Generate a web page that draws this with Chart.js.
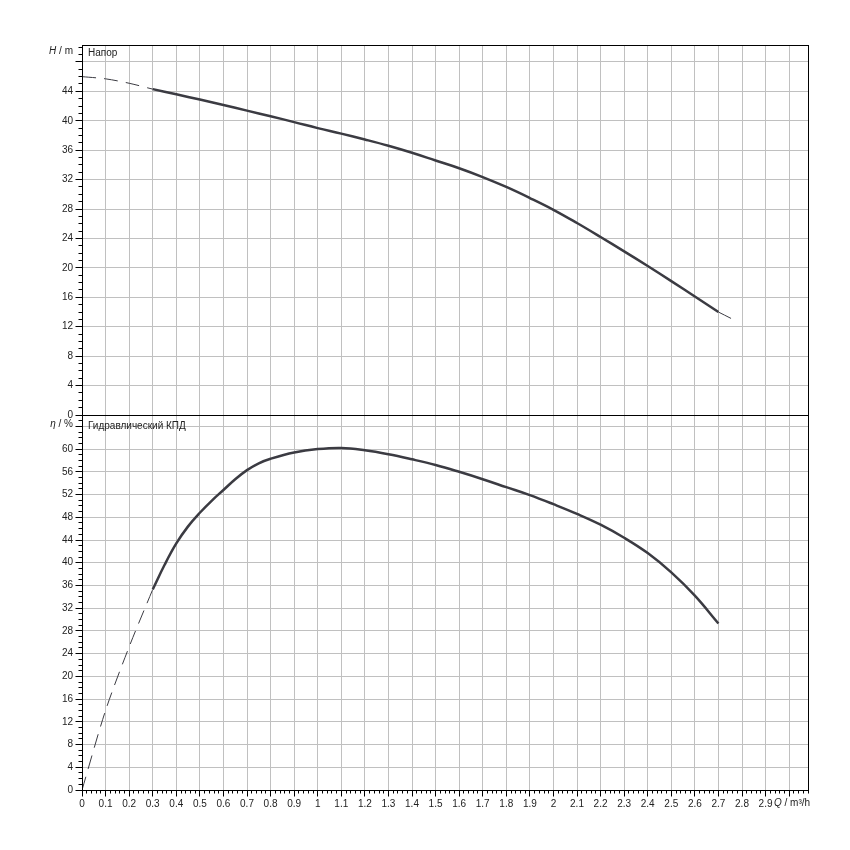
<!DOCTYPE html>
<html>
<head>
<meta charset="utf-8">
<script src="https://cdn.jsdelivr.net/npm/chart.js@4.4.0/dist/chart.umd.min.js"></script>
<style>
html, body { margin: 0; padding: 0; background: #fff; }
#wrap { position: relative; width: 850px; height: 850px; }
canvas { position: absolute; left: 0; }
#headChart { top: 0; }
#effChart { top: 400px; }
</style>
</head>
<body>
<div id="wrap">
  <canvas id="headChart" width="850" height="430"></canvas>
  <canvas id="effChart" width="850" height="445"></canvas>
</div>
<script>
// Q axis, m³/h
const qMax = 3.08;

// head curve H / m (solid part)
const headQ = [0.3, 0.4, 0.5, 0.6, 0.7, 0.8, 0.9, 1.0, 1.1, 1.2, 1.3, 1.4, 1.5,
               1.6, 1.7, 1.8, 1.9, 2.0, 2.1, 2.2, 2.3, 2.4, 2.5, 2.6, 2.7];
const headH = [44.3, 43.6, 42.88, 42.14, 41.38, 40.61, 39.82, 39.0, 38.25, 37.45, 36.6, 35.65, 34.6,
               33.55, 32.35, 31.0, 29.5, 27.9, 26.1, 24.2, 22.25, 20.25, 18.2, 16.1, 14.0];
// dashed extensions of the head curve
const headStartQ = [0, 0.1, 0.2, 0.3];
const headStartH = [46.0, 45.7, 45.1, 44.3];
const headEndQ = [2.7, 2.78];
const headEndH = [14.0, 12.7];

// hydraulic efficiency η / % (solid part)
const effQ = [0.3, 0.35, 0.4, 0.45, 0.5, 0.55, 0.6, 0.65, 0.7, 0.75, 0.8, 0.9, 1.0, 1.1, 1.2, 1.3, 1.4, 1.5,
              1.6, 1.7, 1.8, 1.9, 2.0, 2.1, 2.2, 2.3, 2.4, 2.5, 2.6, 2.7];
const effEta = [35.3, 39.6, 43.4, 46.4, 48.8, 50.9, 52.8, 54.7, 56.3, 57.5, 58.3, 59.4, 60.0, 60.2, 59.8, 59.1, 58.2, 57.2,
                56.0, 54.7, 53.3, 51.9, 50.3, 48.6, 46.7, 44.4, 41.7, 38.3, 34.2, 29.3];
const effStartQ = [0, 0.1, 0.2, 0.3];
const effStartEta = [0, 14.0, 25.2, 35.3];

Chart.defaults.font.family = '"Liberation Sans", Arial, sans-serif';
Chart.defaults.font.size = 10;
Chart.defaults.color = '#222';

const pts = (xs, ys) => xs.map((x, i) => ({ x: x, y: ys[i] }));
const align = p => Math.round(p + 0.5) - 0.5;

function mixedText(ctx, parts, x, y, right) {
  const fonts = parts.map(p => (p[1] ? 'italic ' : '') + '10px "Liberation Sans", Arial, sans-serif');
  const widths = parts.map((p, i) => { ctx.font = fonts[i]; return ctx.measureText(p[0]).width; });
  let cx = right ? x - widths.reduce((a, b) => a + b, 0) : x;
  parts.forEach((p, i) => {
    ctx.font = fonts[i];
    ctx.fillText(p[0], cx, y);
    cx += widths[i];
  });
}

const framePlugin = {
  id: 'frame',
  afterDraw(chart, args, opts) {
    const { ctx, chartArea: a } = chart;
    const x = chart.scales.x, y = chart.scales.y;
    const L = align(a.left), R = align(a.right), T = align(a.top), B = align(a.bottom);
    ctx.save();
    ctx.strokeStyle = '#000';
    ctx.lineWidth = 1;
    ctx.strokeRect(L, T, R - L, B - T);
    ctx.beginPath();
    for (let v = 0; v <= y.max + 1e-9; v += 1) {
      const py = align(y.getPixelForValue(v));
      ctx.moveTo(L - (v % 4 === 0 ? 7 : 4), py);
      ctx.lineTo(L, py);
    }
    if (opts.xTicks) {
      for (let i = 0; i * 0.02 <= x.max + 1e-9; i++) {
        const px = align(x.getPixelForValue(i * 0.02));
        ctx.moveTo(px, B);
        ctx.lineTo(px, B + (i % 5 === 0 ? 6 : 3));
      }
    }
    ctx.stroke();

    ctx.fillStyle = '#222';
    ctx.textBaseline = 'middle';
    ctx.textAlign = 'left';
    mixedText(ctx, opts.yTitle, 73, opts.yTitleY, true);
    ctx.font = '10px "Liberation Sans", Arial, sans-serif';
    ctx.fillText(opts.caption, 88, opts.captionY);
    if (opts.xTitle) mixedText(ctx, opts.xTitle, 774, opts.xTitleY, false);
    ctx.restore();
  }
};

function solid(data) {
  return { data: data, borderColor: '#3b3b42', borderWidth: 2.5, pointRadius: 0,
           tension: 0.4, fill: false };
}
function dashed(data) {
  return { data: data, borderColor: '#3b3b42', borderWidth: 1, borderDash: [14, 8],
           pointRadius: 0, tension: 0.3, fill: false };
}

function xScale(showLabels) {
  return {
    type: 'linear', min: 0, max: qMax,
    border: { display: false },
    grid: { color: '#c0c0c0', drawTicks: false },
    afterFit: s => { s.height = showLabels ? 20 : 0; },
    ticks: {
      display: showLabels, stepSize: 0.1, includeBounds: false, autoSkip: false,
      maxRotation: 0, padding: 8,
      callback: v => (v > 2.95 ? '' : String(Math.round(v * 10) / 10))
    }
  };
}
function yScale(max, hide) {
  return {
    type: 'linear', min: 0, max: max,
    border: { display: false },
    grid: { color: '#c0c0c0', drawTicks: false },
    afterFit: s => { s.width = 82; },
    ticks: {
      stepSize: 4, includeBounds: false, padding: 9,
      callback: v => (v === hide ? '' : String(v))
    }
  };
}

new Chart(document.getElementById('headChart'), {
  type: 'line',
  data: {
    datasets: [
      dashed(pts(headStartQ, headStartH)),
      dashed(pts(headEndQ, headEndH)),
      solid(pts(headQ, headH))
    ]
  },
  options: {
    responsive: false, animation: false,
    layout: { padding: { left: 0, top: 45, right: 42, bottom: 10 } },
    scales: { x: xScale(false), y: yScale(50.3, 48) },
    plugins: {
      legend: { display: false }, tooltip: { enabled: false },
      frame: { yTitle: [['H', true], [' / m', false]], yTitleY: 51,
               caption: 'Напор', captionY: 53, xTicks: false }
    }
  },
  plugins: [framePlugin]
});

new Chart(document.getElementById('effChart'), {
  type: 'line',
  data: {
    datasets: [
      dashed(pts(effStartQ, effStartEta)),
      solid(pts(effQ, effEta))
    ]
  },
  options: {
    responsive: false, animation: false,
    layout: { padding: { left: 0, top: 10, right: 42, bottom: 35 } },
    scales: { x: xScale(true), y: yScale(66, 64) },
    plugins: {
      legend: { display: false }, tooltip: { enabled: false },
      frame: { yTitle: [['η', true], [' / %', false]], yTitleY: 24,
               caption: 'Гидравлический КПД', captionY: 26,
               xTitle: [['Q', true], [' / m³/h', false]], xTitleY: 403, xTicks: true }
    }
  },
  plugins: [framePlugin]
});
</script>
</body>
</html>
